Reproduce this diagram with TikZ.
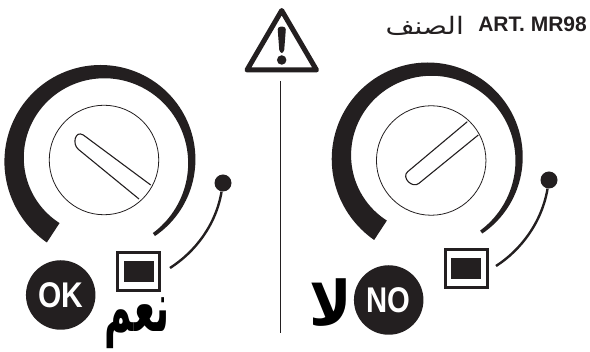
\documentclass[tikz,border=0pt]{standalone}
\usepackage{fontspec}
\setmainfont{Liberation Sans}
\newfontfamily\arabicfont[Script=Arabic]{DejaVu Sans}
\TeXXeTstate=1
\definecolor{ink}{HTML}{231F20}
\tikzset{
  badge/.style={circle,fill=ink,minimum size=69.5pt,inner sep=0pt,text=white,font=\bfseries\fontsize{34}{34}\selectfont},
  winbox/.style={rectangle,draw=ink,line width=3pt,fill=white,minimum width=42pt,minimum height=38pt,inner sep=0pt},
  winfill/.style={rectangle,fill=ink,minimum width=30pt,minimum height=21pt,inner sep=0pt},
  tipdot/.style={circle,fill=ink,minimum size=17pt,inner sep=0pt},
  thinline/.style={draw=ink,line width=.8pt},
  medline/.style={draw=ink,line width=1.1pt,line join=round},
  wire/.style={draw=ink,line width=2.4pt},
  dialface/.style={circle,draw=ink,line width=.8pt,minimum size=109.5pt,inner sep=0pt},
  arlabel/.style={inner sep=0pt,text=black,font=\arabicfont\bfseries\fontsize{44}{44}\selectfont}
}
% tapered scale arc about (#1,#2)
\newcommand{\dialarc}[2]{%
  \fill[ink] plot[domain=123.2:414.2,samples=120,variable=\t]
    ({#1+(95.5+2.5*((270-\t)/147)*((270-\t)/147)*((270-\t)/147))*cos(\t)},
     {#2+(95.5+2.5*((270-\t)/147)*((270-\t)/147)*((270-\t)/147))*sin(\t)})
   -- plot[domain=414.2:123.2,samples=120,variable=\t]
    ({#1+(95.5+2.5*((270-\t)/147)*((270-\t)/147)*((270-\t)/147)-19.4+.0672*(\t-180))*cos(\t)},
     {#2+(95.5+2.5*((270-\t)/147)*((270-\t)/147)*((270-\t)/147)-19.4+.0672*(\t-180))*sin(\t)})
   -- cycle;}
\begin{document}
\begin{tikzpicture}[x=1pt,y=-1pt]
\useasboundingbox (0,0) rectangle (590,352);
% left dial
\dialarc{100.5}{160.5}
\node[dialface] (faceL) at (104,160) {};
\coordinate (slotLa) at (150.7,185);
\coordinate (slotLb) at (139,199);
\draw[medline] (slotLa) -- (83.3,135) .. controls (75,130) and (72,144) .. (78.3,149.3) -- (slotLb);
\node[winbox] (boxL) at (138.5,271.5) {};
\node[winfill] (fillL) at (boxL.center) {};
\node[tipdot] (dotL) at (223,183) {};
\coordinate (wireL) at (170,268);
\draw[wire] (wireL) .. controls (195,252) and (216,225) .. (dotL);
\node[badge] (ok) at (60.7,295) {\scalebox{.88}[1.05]{OK}};
\node[arlabel,anchor=base] (naam) at (137,332) {\scalebox{.85}[1.6]{\beginR نعم\endR}};
% right dial
\dialarc{427.8}{158}
\node[dialface] (faceR) at (431.2,160.5) {};
\coordinate (slotRa) at (467.3,121.7);
\coordinate (slotRb) at (478.3,135);
\draw[medline] (slotRa) -- (407.7,171.7) .. controls (401,177.3) and (412.3,189) .. (419,183.3) -- (slotRb);
\node[winbox] (boxR) at (466,269) {};
\node[winfill] (fillR) at (boxR.center) {};
\node[tipdot] (dotR) at (549,180) {};
\coordinate (wireR) at (496,266);
\draw[wire] (wireR) .. controls (521,250) and (542,222) .. (dotR);
\node[badge] (no) at (388.7,300) {\scalebox{.86}[1.05]{NO}};
\node[arlabel,anchor=base] (la) at (331,326) {\scalebox{1.3}[1.4]{\beginR لا\endR}};
% centre
\draw[draw=ink,line width=5pt,line join=round,fill=white] (281.7,10.5) -- (247,70) -- (316.5,70) -- cycle;
\fill[ink,rounded corners=3pt] (277.5,26.7) -- (286,26.7) -- (284,53) -- (279.5,53) -- cycle;
\node[circle,fill=ink,minimum size=9.5pt,inner sep=0pt] (bang) at (281.7,60) {};
\coordinate (sepT) at (280.5,81);
\coordinate (sepB) at (280.5,333);
\draw[thinline] (sepT) -- (sepB);
% heading
\node[anchor=base east,inner sep=0pt,font=\bfseries\fontsize{21}{21}\selectfont,text=ink] (art) at (587,32) {ART. MR98};
\node[anchor=base east,inner sep=0pt,font=\arabicfont\fontsize{24}{24}\selectfont,text=ink] (sinf) at (464,35) {\scalebox{1.17}[1]{\beginR الصنف\endR}};
\end{tikzpicture}
\end{document}
